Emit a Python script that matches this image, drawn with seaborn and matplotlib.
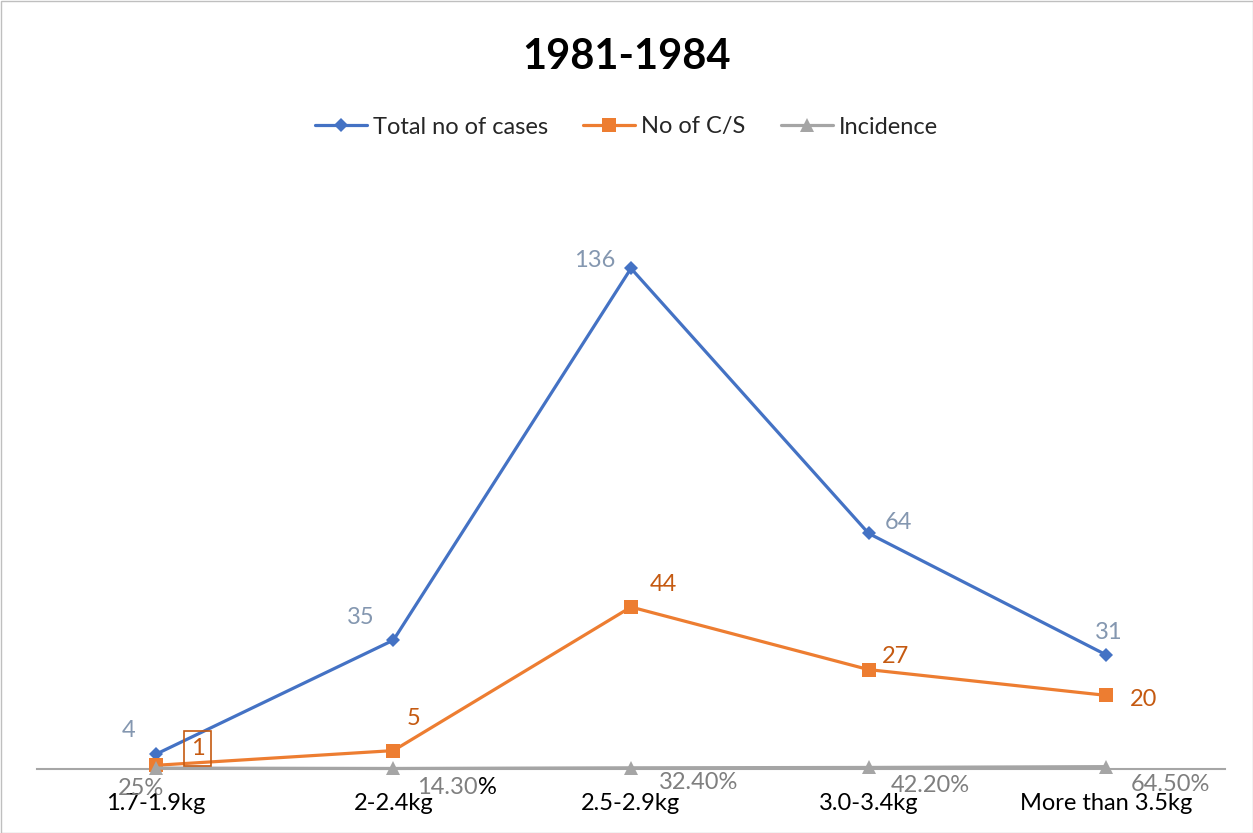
import matplotlib
matplotlib.use("Agg")
import matplotlib.pyplot as plt
import seaborn as sns
import pandas as pd
from matplotlib.patches import Rectangle

categories = ["1.7-1.9kg", "2-2.4kg", "2.5-2.9kg", "3.0-3.4kg", "More than 3.5kg"]
total_cases = [4, 35, 136, 64, 31]
cs_cases = [1, 5, 44, 27, 20]
incidence = [0.25, 0.143, 0.324, 0.422, 0.645]
incidence_labels = ["25%", "14.30%", "32.40%", "42.20%", "64.50%"]
series_names = ["Total no of cases", "No of C/S", "Incidence"]
title = "1981-1984"

sns.set_theme(style="white")
plt.rcParams["font.family"] = ["Lato", "DejaVu Sans"]

rows = []
for name, vals in zip(series_names, [total_cases, cs_cases, incidence]):
    for i, (c, v) in enumerate(zip(categories, vals)):
        rows.append({"cat": c, "x": i, "value": v, "series": name})
df = pd.DataFrame(rows)

colors = {"Total no of cases": "#4472C4", "No of C/S": "#ED7D31", "Incidence": "#A5A5A5"}
markers = {"Total no of cases": "D", "No of C/S": "s", "Incidence": "^"}
msizes = {"Total no of cases": 7, "No of C/S": 10, "Incidence": 10}

fig = plt.figure(figsize=(12.53, 8.33), dpi=100)
ax = fig.add_axes([37 / 1253, (833 - 769) / 833, (1225 - 37) / 1253, (769 - 180) / 833])

for name in series_names:
    sub = df[df.series == name]
    sns.lineplot(data=sub, x="x", y="value", ax=ax, color=colors[name],
                 marker=markers[name], markersize=msizes[name], linewidth=2.3,
                 markeredgewidth=0, label=name, clip_on=False)

ax.set_xlim(-0.5, 4.5)
ax.set_ylim(0, 160)
ax.set_xticks(range(len(categories)))
ax.set_xticklabels(categories, fontsize=17, color="black")
ax.tick_params(axis="x", length=0, pad=17)
ax.set_yticks([])
ax.set_xlabel("")
ax.set_ylabel("")
for s in ["top", "left", "right"]:
    ax.spines[s].set_visible(False)
ax.spines["bottom"].set_color("#A6A6A6")
ax.spines["bottom"].set_linewidth(1.5)
ax.spines["bottom"].set_zorder(0.5)
ax.patch.set_alpha(0)

fs = 17
dy = -2
# data labels: total
tot_off = [(-19.4, 19.4), (-23.8, 18), (-26, 8), (21.6, 10), (1.5, 18)]
for i, v in enumerate(total_cases):
    ax.annotate(str(v), (i, v), xytext=(tot_off[i][0], tot_off[i][1] + dy),
                textcoords="offset points", ha="center", va="center",
                fontsize=fs, color="#8497B0")
cs_off = [(30, 14.4), (14.4, 25), (23, 18), (19.4, 11.5), (26.6, -0.7)]
for i, v in enumerate(cs_cases):
    kw = {}
    if i == 0:
        kw["bbox"] = dict(boxstyle="square,pad=0.3", fc="none", ec="#C55A11", lw=1.2)
    ax.annotate(str(v), (i, v), xytext=(cs_off[i][0], cs_off[i][1] + dy),
                textcoords="offset points", ha="center", va="center",
                fontsize=fs, color="#C55A11", **kw)
inc_off = [(-10.8, -13), (40, -12), (49, -8.6), (44.6, -10.8), (46, -10.8)]
for i, v in enumerate(incidence):
    if i == 1:
        # the "%" of this label is black in the original
        split = 61
        ax.annotate(incidence_labels[i][:-1], (i, v), xytext=(split, inc_off[i][1] + dy),
                    textcoords="offset points", ha="right", va="center",
                    fontsize=fs, color="#7F7F7F")
        ax.annotate("%", (i, v), xytext=(split, inc_off[i][1] + dy),
                    textcoords="offset points", ha="left", va="center",
                    fontsize=fs, color="black")
        continue
    ax.annotate(incidence_labels[i], (i, v), xytext=(inc_off[i][0], inc_off[i][1] + dy),
                textcoords="offset points", ha="center", va="center",
                fontsize=fs, color="#7F7F7F")

ax.get_legend().remove()
handles, labels = ax.get_legend_handles_labels()
fig.legend(handles, labels, loc="center", bbox_to_anchor=(0.5, (833 - 127) / 833),
           ncol=3, frameon=False, fontsize=17, handlelength=2.2, columnspacing=1.5,
           handletextpad=0.25)

fig.text(0.5, (833 - 57) / 833, title, ha="center", va="center", fontsize=30,
         fontweight="bold", color="black")

fig.patches.append(Rectangle((0.5 / 1253, 0.5 / 833), 1 - 1 / 1253, 1 - 1 / 833,
                             transform=fig.transFigure, fill=False, ec="#BFBFBF", lw=1))

fig.savefig("out.png", dpi=100)
